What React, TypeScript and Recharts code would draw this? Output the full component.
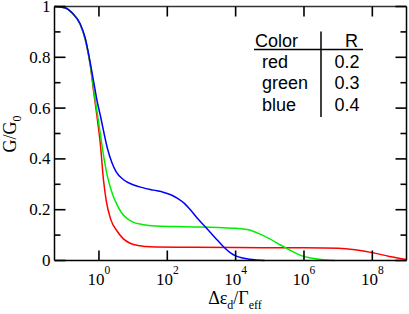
import React from "react";
import { LineChart, Line, XAxis, YAxis, ReferenceLine } from "recharts";

// x values are log10(Δε_d/Γ_eff)
const redData = [
  { lx: -1.301, v: 1.0 }, { lx: -1.0, v: 0.995 }, { lx: -0.79, v: 0.975 }, { lx: -0.55, v: 0.93 },
  { lx: -0.4, v: 0.87 }, { lx: -0.25, v: 0.765 }, { lx: -0.16, v: 0.67 }, { lx: -0.06, v: 0.57 },
  { lx: 0.04, v: 0.46 }, { lx: 0.13, v: 0.32 }, { lx: 0.22, v: 0.23 }, { lx: 0.35, v: 0.16 },
  { lx: 0.52, v: 0.118 }, { lx: 0.7, v: 0.087 }, { lx: 0.91, v: 0.068 }, { lx: 1.2, v: 0.058 },
  { lx: 1.5, v: 0.054 }, { lx: 2.5, v: 0.052 }, { lx: 4.0, v: 0.051 }, { lx: 6.0, v: 0.05 },
  { lx: 7.0, v: 0.048 }, { lx: 7.5, v: 0.042 }, { lx: 8.0, v: 0.031 }, { lx: 8.5, v: 0.016 },
  { lx: 9.0, v: 0.004 },
];
const greenData = [
  { lx: -1.301, v: 1.0 }, { lx: -1.0, v: 0.995 }, { lx: -0.79, v: 0.975 }, { lx: -0.55, v: 0.93 },
  { lx: -0.4, v: 0.87 }, { lx: -0.25, v: 0.767 }, { lx: -0.15, v: 0.67 }, { lx: -0.05, v: 0.58 },
  { lx: 0.05, v: 0.49 }, { lx: 0.15, v: 0.4 }, { lx: 0.25, v: 0.33 }, { lx: 0.4, v: 0.26 },
  { lx: 0.52, v: 0.222 }, { lx: 0.65, v: 0.19 }, { lx: 0.82, v: 0.166 }, { lx: 1.0, v: 0.151 },
  { lx: 1.3, v: 0.141 }, { lx: 1.7, v: 0.136 }, { lx: 2.5, v: 0.133 }, { lx: 3.5, v: 0.13 },
  { lx: 4.0, v: 0.127 }, { lx: 4.4, v: 0.12 }, { lx: 4.7, v: 0.105 }, { lx: 5.0, v: 0.085 },
  { lx: 5.3, v: 0.062 }, { lx: 5.6, v: 0.04 }, { lx: 5.9, v: 0.02 }, { lx: 6.2, v: 0.01 },
  { lx: 6.5, v: 0.004 }, { lx: 6.9, v: 0.0 },
];
const blueData = [
  { lx: -1.301, v: 1.0 }, { lx: -1.0, v: 0.995 }, { lx: -0.79, v: 0.976 }, { lx: -0.55, v: 0.932 },
  { lx: -0.4, v: 0.875 }, { lx: -0.25, v: 0.775 }, { lx: -0.15, v: 0.7 }, { lx: -0.05, v: 0.625 },
  { lx: 0.05, v: 0.565 }, { lx: 0.15, v: 0.5 }, { lx: 0.25, v: 0.44 }, { lx: 0.38, v: 0.385 },
  { lx: 0.5, v: 0.35 }, { lx: 0.72, v: 0.318 }, { lx: 1.0, v: 0.298 }, { lx: 1.3, v: 0.286 },
  { lx: 1.6, v: 0.277 }, { lx: 1.9, v: 0.268 }, { lx: 2.1, v: 0.259 }, { lx: 2.3, v: 0.245 },
  { lx: 2.5, v: 0.225 }, { lx: 2.7, v: 0.196 }, { lx: 2.9, v: 0.163 }, { lx: 3.15, v: 0.127 },
  { lx: 3.4, v: 0.09 }, { lx: 3.63, v: 0.056 }, { lx: 3.85, v: 0.03 }, { lx: 4.02, v: 0.017 },
  { lx: 4.2, v: 0.01 }, { lx: 4.41, v: 0.005 }, { lx: 4.85, v: 0.0 },
];

const X_MIN = -1.301;
const X_MAX = 9;
const xTicks = [0, 2, 4, 6, 8];
const yTicks = [0, 0.1, 0.2, 0.3, 0.4, 0.5, 0.6, 0.7, 0.8, 0.9, 1];
const yMajorLabels: Record<string, string> = { "0": "0", "0.2": "0.2", "0.4": "0.4", "0.6": "0.6", "0.8": "0.8", "1": "1" };

const legendRows = [
  { color: "red", r: "0.2" },
  { color: "green", r: "0.3" },
  { color: "blue", r: "0.4" },
];

const SERIF = "'Liberation Serif', 'Times New Roman', serif";
const SANS = "'Liberation Sans', Arial, sans-serif";

// layout
const CHART_W = 409;
const CHART_H = 314;
const MARGIN = { top: 6.5, right: 2.5, bottom: 0, left: 0 };
const X_AXIS_H = 53.5;
const Y_AXIS_W = 54.5;
const PLOT_W = CHART_W - MARGIN.left - MARGIN.right - Y_AXIS_W;
const PLOT_H = CHART_H - MARGIN.top - MARGIN.bottom - X_AXIS_H;
// tick lengths in pixels converted to data units for mirrored ticks
const TOP_TICK = 10 / PLOT_H;
const RIGHT_MAJOR = (11 / PLOT_W) * (X_MAX - X_MIN);
const RIGHT_MINOR = (6 / PLOT_W) * (X_MAX - X_MIN);

const key = (v: number) => String(Math.round(v * 10) / 10);

const XTickBottom = (props: any) => {
  const { x, y, payload } = props;
  return (
    <g>
      <line x1={x} y1={y} x2={x} y2={y - 10} stroke="#000" strokeWidth={1.6} />
      <text x={x} y={y + 24} textAnchor="middle" fontFamily={SERIF} fontSize={17} fill="#000">
        10<tspan dy={-11} fontSize={11.5}>{payload.value}</tspan>
      </text>
    </g>
  );
};

const YTickLeft = (props: any) => {
  const { x, y, payload } = props;
  const lbl = yMajorLabels[key(payload.value)];
  const major = lbl !== undefined;
  const len = major ? 11 : 6;
  return (
    <g>
      <line x1={x} y1={y} x2={x + len} y2={y} stroke="#000" strokeWidth={1.6} />
      {major && (
        <text x={x - 4} y={y + 5.5} textAnchor="end" fontFamily={SERIF} fontSize={17} fill="#000">
          {lbl}
        </text>
      )}
    </g>
  );
};

export default function App() {
  return (
    <div style={{ position: "absolute", left: 0, top: 0, width: CHART_W, height: CHART_H, background: "#fff" }}>
      <LineChart width={CHART_W} height={CHART_H} margin={MARGIN}>
        <XAxis
          dataKey="lx"
          type="number"
          domain={[X_MIN, X_MAX]}
          ticks={xTicks}
          interval={0}
          allowDataOverflow
          height={X_AXIS_H}
          tickSize={0}
          tickMargin={0}
          tick={<XTickBottom />}
          axisLine={{ stroke: "#000", strokeWidth: 1.5 }}
          tickLine={false}
        />
        <YAxis
          type="number"
          domain={[0, 1]}
          ticks={yTicks}
          width={Y_AXIS_W}
          tickSize={0}
          tickMargin={0}
          tick={<YTickLeft />}
          axisLine={{ stroke: "#000", strokeWidth: 1.5 }}
          tickLine={false}
          interval={0}
        />
        <ReferenceLine y={1} stroke="#333" strokeWidth={1.5} ifOverflow="visible" />
        <ReferenceLine x={X_MAX} stroke="#000" strokeWidth={1.5} ifOverflow="visible" />
        {xTicks.map((t) => (
          <ReferenceLine
            key={"tt" + t}
            segment={[{ x: t, y: 1 }, { x: t, y: 1 - TOP_TICK }]}
            stroke="#000"
            strokeWidth={1.6}
            ifOverflow="visible"
          />
        ))}
        {yTicks.map((t) => (
          <ReferenceLine
            key={"rt" + t}
            segment={[
              { x: X_MAX, y: t },
              { x: X_MAX - (yMajorLabels[key(t)] !== undefined ? RIGHT_MAJOR : RIGHT_MINOR), y: t },
            ]}
            stroke="#000"
            strokeWidth={1.6}
            ifOverflow="visible"
          />
        ))}
        <Line data={redData} dataKey="v" type="monotone" stroke="#ff0000" strokeWidth={1.5} dot={false} isAnimationActive={false} />
        <Line data={greenData} dataKey="v" type="monotone" stroke="#00ee00" strokeWidth={1.5} dot={false} isAnimationActive={false} />
        <Line data={blueData} dataKey="v" type="monotone" stroke="#0000ff" strokeWidth={1.5} dot={false} isAnimationActive={false} />
      </LineChart>
      <svg width={CHART_W} height={CHART_H} style={{ position: "absolute", left: 0, top: 0, pointerEvents: "none" }}>
        <text transform="translate(16,134) rotate(-90)" textAnchor="middle" fontFamily={SERIF} fontSize={18} fill="#000">
          G/G<tspan dy={5} fontSize={12}>0</tspan>
        </text>
        <text x={235} y={303.5} textAnchor="middle" fontFamily={SERIF} fontSize={18} fill="#000">
          Δε<tspan dy={5} fontSize={12}>d</tspan><tspan dy={-5}>/Γ</tspan><tspan dy={5} fontSize={12}>eff</tspan>
        </text>
        <g fontFamily={SANS} fontSize={18} fill="#000">
          <text x={255} y={46.5}>Color</text>
          <text x={351.5} y={46.5} textAnchor="middle">R</text>
          <line x1={254} y1={49.5} x2={363} y2={49.5} stroke="#000" strokeWidth={1.5} />
          <line x1={321} y1={31.5} x2={321} y2={117} stroke="#000" strokeWidth={1.5} />
          {legendRows.map((row, i) => (
            <g key={row.color}>
              <text x={262} y={67.5 + i * 21.6}>{row.color}</text>
              <text x={347} y={67.5 + i * 21.6} textAnchor="middle">{row.r}</text>
            </g>
          ))}
        </g>
      </svg>
    </div>
  );
}
